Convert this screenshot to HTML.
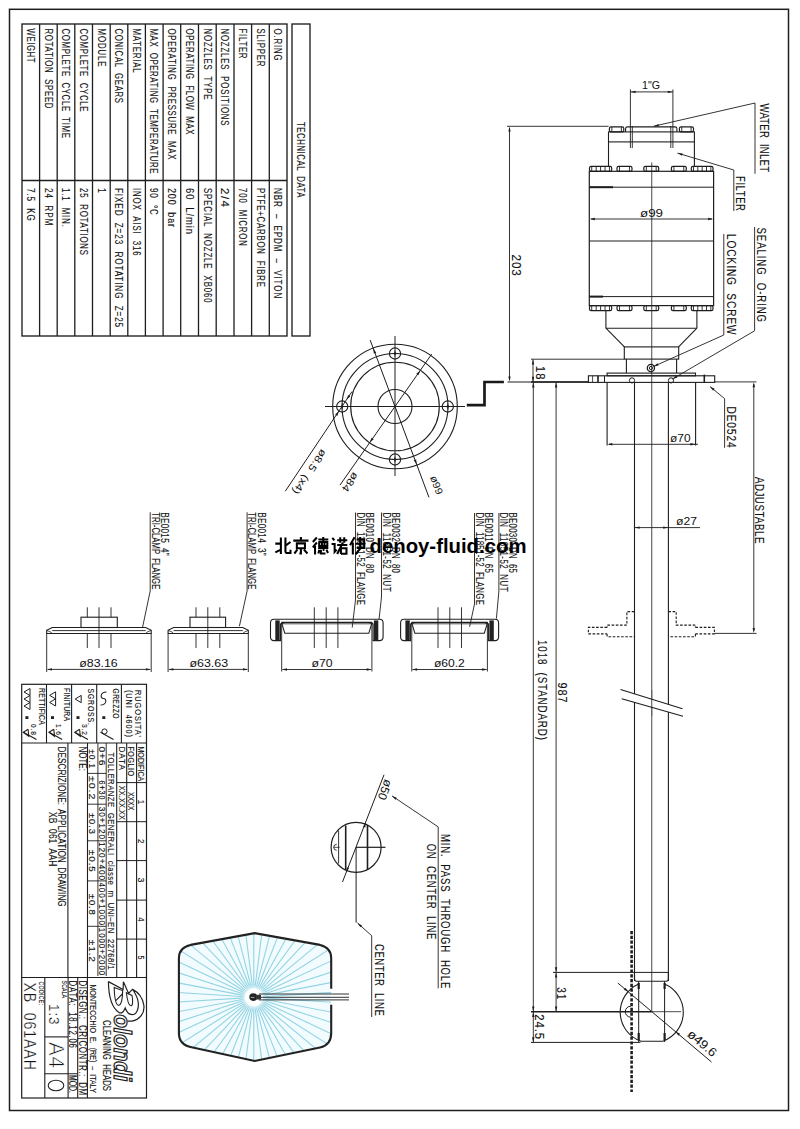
<!DOCTYPE html>
<html><head><meta charset="utf-8"><style>
html,body{margin:0;padding:0;background:#fff;}
svg{display:block;}
text{font-family:"Liberation Sans",sans-serif;white-space:pre;}
</style></head><body>
<svg width="800" height="1129" viewBox="0 0 800 1129">
<defs><radialGradient id="halo"><stop offset="0.55" stop-color="#fff" stop-opacity="1"/><stop offset="1" stop-color="#fff" stop-opacity="0"/></radialGradient></defs>
<rect x="0" y="0" width="800" height="1129" fill="#fff"/>
<rect x="9.5" y="9.3" width="779" height="1101.2" rx="0" fill="none" stroke="#1e1e1e" stroke-width="1.5"/>
<rect x="22" y="24" width="265" height="312" rx="0" fill="none" stroke="#1e1e1e" stroke-width="1.35"/>
<line x1="39.6" y1="24" x2="39.6" y2="336" stroke="#1e1e1e" stroke-width="1.3" />
<line x1="57.2" y1="24" x2="57.2" y2="336" stroke="#1e1e1e" stroke-width="1.3" />
<line x1="74.8" y1="24" x2="74.8" y2="336" stroke="#1e1e1e" stroke-width="1.3" />
<line x1="92.5" y1="24" x2="92.5" y2="336" stroke="#1e1e1e" stroke-width="1.3" />
<line x1="110.2" y1="24" x2="110.2" y2="336" stroke="#1e1e1e" stroke-width="1.3" />
<line x1="127.8" y1="24" x2="127.8" y2="336" stroke="#1e1e1e" stroke-width="1.3" />
<line x1="145.4" y1="24" x2="145.4" y2="336" stroke="#1e1e1e" stroke-width="1.3" />
<line x1="163.1" y1="24" x2="163.1" y2="336" stroke="#1e1e1e" stroke-width="1.3" />
<line x1="180.7" y1="24" x2="180.7" y2="336" stroke="#1e1e1e" stroke-width="1.3" />
<line x1="198.5" y1="24" x2="198.5" y2="336" stroke="#1e1e1e" stroke-width="1.3" />
<line x1="216.2" y1="24" x2="216.2" y2="336" stroke="#1e1e1e" stroke-width="1.3" />
<line x1="234" y1="24" x2="234" y2="336" stroke="#1e1e1e" stroke-width="1.3" />
<line x1="251.6" y1="24" x2="251.6" y2="336" stroke="#1e1e1e" stroke-width="1.3" />
<line x1="269.3" y1="24" x2="269.3" y2="336" stroke="#1e1e1e" stroke-width="1.3" />
<line x1="22" y1="180.5" x2="287" y2="180.5" stroke="#1e1e1e" stroke-width="1.3" />
<rect x="292" y="24" width="18" height="312" rx="0" fill="none" stroke="#1e1e1e" stroke-width="1.35"/>
<text transform="translate(26.95,28.5) rotate(90) scale(0.78,1)" font-size="10.03" textLength="43.59" lengthAdjust="spacing" fill="#111" stroke="#111" stroke-width="0.12" font-weight="normal" font-style="normal" font-family="Liberation Sans">WEIGHT</text>
<text transform="translate(44.55,28.5) rotate(90) scale(0.78,1)" font-size="10.03" textLength="102.56" lengthAdjust="spacing" fill="#111" stroke="#111" stroke-width="0.12" font-weight="normal" font-style="normal" font-family="Liberation Sans">ROTATION  SPEED</text>
<text transform="translate(62.15,28.5) rotate(90) scale(0.78,1)" font-size="10.03" textLength="140.38" lengthAdjust="spacing" fill="#111" stroke="#111" stroke-width="0.12" font-weight="normal" font-style="normal" font-family="Liberation Sans">COMPLETE  CYCLE  TIME</text>
<text transform="translate(79.8,28.5) rotate(90) scale(0.78,1)" font-size="10.03" textLength="106.41" lengthAdjust="spacing" fill="#111" stroke="#111" stroke-width="0.12" font-weight="normal" font-style="normal" font-family="Liberation Sans">COMPLETE  CYCLE</text>
<text transform="translate(97.5,28.5) rotate(90) scale(0.78,1)" font-size="10.03" textLength="48.67" lengthAdjust="spacing" fill="#111" stroke="#111" stroke-width="0.12" font-weight="normal" font-style="normal" font-family="Liberation Sans">MODULE</text>
<text transform="translate(115.15,28.5) rotate(90) scale(0.78,1)" font-size="10.03" textLength="95.51" lengthAdjust="spacing" fill="#111" stroke="#111" stroke-width="0.12" font-weight="normal" font-style="normal" font-family="Liberation Sans">CONICAL  GEARS</text>
<text transform="translate(132.75,28.5) rotate(90) scale(0.78,1)" font-size="10.03" textLength="56.41" lengthAdjust="spacing" fill="#111" stroke="#111" stroke-width="0.12" font-weight="normal" font-style="normal" font-family="Liberation Sans">MATERIAL</text>
<text transform="translate(150.4,28.5) rotate(90) scale(0.78,1)" font-size="10.03" textLength="185.9" lengthAdjust="spacing" fill="#111" stroke="#111" stroke-width="0.12" font-weight="normal" font-style="normal" font-family="Liberation Sans">MAX  OPERATING  TEMPERATURE</text>
<text transform="translate(168.05,28.5) rotate(90) scale(0.78,1)" font-size="10.03" textLength="167.95" lengthAdjust="spacing" fill="#111" stroke="#111" stroke-width="0.12" font-weight="normal" font-style="normal" font-family="Liberation Sans">OPERATING  PRESSURE  MAX</text>
<text transform="translate(185.75,28.5) rotate(90) scale(0.78,1)" font-size="10.03" textLength="135.9" lengthAdjust="spacing" fill="#111" stroke="#111" stroke-width="0.12" font-weight="normal" font-style="normal" font-family="Liberation Sans">OPERATING  FLOW  MAX</text>
<text transform="translate(203.5,28.5) rotate(90) scale(0.78,1)" font-size="10.03" textLength="91.03" lengthAdjust="spacing" fill="#111" stroke="#111" stroke-width="0.12" font-weight="normal" font-style="normal" font-family="Liberation Sans">NOZZLES  TYPE</text>
<text transform="translate(221.25,28.5) rotate(90) scale(0.78,1)" font-size="10.03" textLength="124.36" lengthAdjust="spacing" fill="#111" stroke="#111" stroke-width="0.12" font-weight="normal" font-style="normal" font-family="Liberation Sans">NOZZLES  POSITIONS</text>
<text transform="translate(238.95,28.5) rotate(90) scale(0.78,1)" font-size="10.03" textLength="38.46" lengthAdjust="spacing" fill="#111" stroke="#111" stroke-width="0.12" font-weight="normal" font-style="normal" font-family="Liberation Sans">FILTER</text>
<text transform="translate(256.6,28.5) rotate(90) scale(0.78,1)" font-size="10.03" textLength="48.72" lengthAdjust="spacing" fill="#111" stroke="#111" stroke-width="0.12" font-weight="normal" font-style="normal" font-family="Liberation Sans">SLIPPER</text>
<text transform="translate(274.3,28.5) rotate(90) scale(0.78,1)" font-size="10.03" textLength="41.03" lengthAdjust="spacing" fill="#111" stroke="#111" stroke-width="0.12" font-weight="normal" font-style="normal" font-family="Liberation Sans">O.RING</text>
<text transform="translate(26.95,188) rotate(90) scale(0.81,1)" font-size="10.03" textLength="40.66" lengthAdjust="spacing" fill="#111" stroke="#111" stroke-width="0.12" font-weight="normal" font-style="normal" font-family="Liberation Sans">7.5  KG</text>
<text transform="translate(44.55,188) rotate(90) scale(0.82,1)" font-size="10.03" textLength="45.58" lengthAdjust="spacing" fill="#111" stroke="#111" stroke-width="0.12" font-weight="normal" font-style="normal" font-family="Liberation Sans">24  RPM</text>
<text transform="translate(62.15,188) rotate(90) scale(0.78,1)" font-size="10.03" textLength="49.9" lengthAdjust="spacing" fill="#111" stroke="#111" stroke-width="0.12" font-weight="normal" font-style="normal" font-family="Liberation Sans">1.1  MIN.</text>
<text transform="translate(79.8,188) rotate(90) scale(0.78,1)" font-size="10.03" textLength="85.9" lengthAdjust="spacing" fill="#111" stroke="#111" stroke-width="0.12" font-weight="normal" font-style="normal" font-family="Liberation Sans">25  ROTATIONS</text>
<text transform="translate(97.5,188) rotate(90)" font-size="10.03" textLength="5" lengthAdjust="spacingAndGlyphs" fill="#111" stroke="#111" stroke-width="0.12" font-weight="normal" font-style="normal" font-family="Liberation Sans">1</text>
<text transform="translate(115.15,188) rotate(90) scale(0.81,1)" font-size="10.03" textLength="171.77" lengthAdjust="spacing" fill="#111" stroke="#111" stroke-width="0.12" font-weight="normal" font-style="normal" font-family="Liberation Sans">FIXED  Z=23  ROTATING  Z=25</text>
<text transform="translate(132.75,188) rotate(90) scale(0.78,1)" font-size="10.03" textLength="86.54" lengthAdjust="spacing" fill="#111" stroke="#111" stroke-width="0.12" font-weight="normal" font-style="normal" font-family="Liberation Sans">INOX  AISI  316</text>
<text transform="translate(150.4,188) rotate(90) scale(0.8,1)" font-size="10.03" textLength="33.58" lengthAdjust="spacing" fill="#111" stroke="#111" stroke-width="0.12" font-weight="normal" font-style="normal" font-family="Liberation Sans">90  °C</text>
<text transform="translate(168.05,188) rotate(90) scale(0.89,1)" font-size="10.03" textLength="43.89" lengthAdjust="spacing" fill="#111" stroke="#111" stroke-width="0.12" font-weight="normal" font-style="normal" font-family="Liberation Sans">200  bar</text>
<text transform="translate(185.75,188) rotate(90) scale(0.94,1)" font-size="10.03" textLength="48.91" lengthAdjust="spacing" fill="#111" stroke="#111" stroke-width="0.12" font-weight="normal" font-style="normal" font-family="Liberation Sans">60  L/min</text>
<text transform="translate(203.5,188) rotate(90) scale(0.78,1)" font-size="10.03" textLength="146.97" lengthAdjust="spacing" fill="#111" stroke="#111" stroke-width="0.12" font-weight="normal" font-style="normal" font-family="Liberation Sans">SPECIAL  NOZZLE  XB060</text>
<text transform="translate(221.25,188) rotate(90) scale(1.15,1)" font-size="10.03" textLength="16.52" lengthAdjust="spacing" fill="#111" stroke="#111" stroke-width="0.12" font-weight="normal" font-style="normal" font-family="Liberation Sans">2/4</text>
<text transform="translate(238.95,188) rotate(90) scale(0.78,1)" font-size="10.03" textLength="74.36" lengthAdjust="spacing" fill="#111" stroke="#111" stroke-width="0.12" font-weight="normal" font-style="normal" font-family="Liberation Sans">700  MICRON</text>
<text transform="translate(256.6,188) rotate(90) scale(0.78,1)" font-size="10.03" textLength="126.92" lengthAdjust="spacing" fill="#111" stroke="#111" stroke-width="0.12" font-weight="normal" font-style="normal" font-family="Liberation Sans">PTFE+CARBON  FIBRE</text>
<text transform="translate(274.3,188) rotate(90) scale(0.8,1)" font-size="10.03" textLength="137.73" lengthAdjust="spacing" fill="#111" stroke="#111" stroke-width="0.12" font-weight="normal" font-style="normal" font-family="Liberation Sans">NBR  –  EPDM  –  VITON</text>
<text transform="translate(296.75,122) rotate(90) scale(0.78,1)" font-size="10.03" textLength="96.79" lengthAdjust="spacing" fill="#111" stroke="#111" stroke-width="0.12" font-weight="normal" font-style="normal" font-family="Liberation Sans">TECHNICAL  DATA</text>
<circle cx="395" cy="406.5" r="62.3" fill="none" stroke="#1e1e1e" stroke-width="1.1"/>
<circle cx="395" cy="406.5" r="53" fill="none" stroke="#1e1e1e" stroke-width="1.1"/>
<circle cx="395" cy="406.5" r="44.3" fill="none" stroke="#1e1e1e" stroke-width="1.1"/>
<circle cx="395" cy="406.5" r="17" fill="none" stroke="#1e1e1e" stroke-width="1.1"/>
<circle cx="342.2" cy="406.5" r="5.6" fill="none" stroke="#1e1e1e" stroke-width="1.1"/>
<circle cx="342.2" cy="406.5" r="1.2" fill="#1e1e1e"/>
<line x1="339.2" y1="406.5" x2="345.2" y2="406.5" stroke="#1e1e1e" stroke-width="0.8" />
<line x1="342.2" y1="403.5" x2="342.2" y2="409.5" stroke="#1e1e1e" stroke-width="0.8" />
<circle cx="447.8" cy="406.5" r="5.6" fill="none" stroke="#1e1e1e" stroke-width="1.1"/>
<circle cx="447.8" cy="406.5" r="1.2" fill="#1e1e1e"/>
<line x1="444.8" y1="406.5" x2="450.8" y2="406.5" stroke="#1e1e1e" stroke-width="0.8" />
<line x1="447.8" y1="403.5" x2="447.8" y2="409.5" stroke="#1e1e1e" stroke-width="0.8" />
<circle cx="395" cy="353.5" r="5.6" fill="none" stroke="#1e1e1e" stroke-width="1.1"/>
<circle cx="395" cy="353.5" r="1.2" fill="#1e1e1e"/>
<line x1="392" y1="353.5" x2="398" y2="353.5" stroke="#1e1e1e" stroke-width="0.8" />
<line x1="395" y1="350.5" x2="395" y2="356.5" stroke="#1e1e1e" stroke-width="0.8" />
<circle cx="395" cy="459.5" r="5.6" fill="none" stroke="#1e1e1e" stroke-width="1.1"/>
<circle cx="395" cy="459.5" r="1.2" fill="#1e1e1e"/>
<line x1="392" y1="459.5" x2="398" y2="459.5" stroke="#1e1e1e" stroke-width="0.8" />
<line x1="395" y1="456.5" x2="395" y2="462.5" stroke="#1e1e1e" stroke-width="0.8" />
<line x1="325" y1="406.5" x2="465" y2="406.5" stroke="#1e1e1e" stroke-width="1" />
<line x1="395" y1="336" x2="395" y2="476" stroke="#1e1e1e" stroke-width="1" />
<line x1="370.14" y1="340" x2="428.97" y2="497.36" stroke="#1e1e1e" stroke-width="1" />
<polygon points="373.29,348.43 376.26,352.65 373.82,353.56" fill="#1e1e1e" stroke="none"/>
<polygon points="416.71,464.57 413.74,460.35 416.18,459.44" fill="#1e1e1e" stroke="none"/>
<line x1="431.71" y1="354.07" x2="339.94" y2="485.14" stroke="#1e1e1e" stroke-width="1" />
<polygon points="420.24,370.46 418.43,375.3 416.3,373.81" fill="#1e1e1e" stroke="none"/>
<polygon points="369.76,442.54 371.57,437.7 373.7,439.19" fill="#1e1e1e" stroke="none"/>
<line x1="352" y1="391.5" x2="285.3" y2="491.2" stroke="#1e1e1e" stroke-width="1" />
<polygon points="346.5,399.8 348.2,394.92 350.36,396.37" fill="#1e1e1e" stroke="none"/>
<polygon points="339,411 337.3,415.88 335.14,414.43" fill="#1e1e1e" stroke="none"/>
<text transform="translate(321.5,448.5) rotate(124.5)" font-size="10.17" textLength="52" lengthAdjust="spacingAndGlyphs" fill="#111">ø8.5  (x4)</text>
<text transform="translate(353.5,471.5) rotate(125)" font-size="10.17" textLength="21" lengthAdjust="spacingAndGlyphs" fill="#111">ø84</text>
<text transform="translate(430,477.3) rotate(70)" font-size="10.17" textLength="19" lengthAdjust="spacingAndGlyphs" fill="#111">ø99</text>
<polyline points="466.8,405.2 484.5,405.2 484.5,382 503.9,382" fill="none" stroke="#1a1a1a" stroke-width="2.7" stroke-linejoin="miter" />
<line x1="651.7" y1="162.5" x2="651.7" y2="1011.7" stroke="#666" stroke-width="1.2" />
<text x="642" y="88.8" font-size="10.03" textLength="18" lengthAdjust="spacingAndGlyphs" fill="#111" font-weight="normal">1"G</text>
<line x1="630.4" y1="89.4" x2="630.4" y2="148" stroke="#1e1e1e" stroke-width="0.9" />
<line x1="672.9" y1="89.4" x2="672.9" y2="148" stroke="#1e1e1e" stroke-width="0.9" />
<line x1="632.3" y1="126" x2="632.3" y2="148" stroke="#1e1e1e" stroke-width="0.9" />
<line x1="670.8" y1="126" x2="670.8" y2="148" stroke="#1e1e1e" stroke-width="0.9" />
<line x1="630.4" y1="91.9" x2="672.9" y2="91.9" stroke="#1e1e1e" stroke-width="0.9" />
<polygon points="630.6,91.9 635.6,90.7 635.6,93.1" fill="#1e1e1e" stroke="none"/>
<polygon points="672.7,91.9 667.7,93.1 667.7,90.7" fill="#1e1e1e" stroke="none"/>
<rect x="608.5" y="131.9" width="85.9" height="10" rx="0" fill="none" stroke="#1e1e1e" stroke-width="1.1"/>
<rect x="609.4" y="126.9" width="14.4" height="5" rx="1.6" fill="none" stroke="#1e1e1e" stroke-width="1.2"/>
<line x1="611.85" y1="126.9" x2="611.85" y2="131.9" stroke="#1e1e1e" stroke-width="0.9" />
<line x1="621.35" y1="126.9" x2="621.35" y2="131.9" stroke="#1e1e1e" stroke-width="0.9" />
<rect x="679.4" y="126.9" width="14.1" height="5" rx="1.6" fill="none" stroke="#1e1e1e" stroke-width="1.2"/>
<line x1="681.8" y1="126.9" x2="681.8" y2="131.9" stroke="#1e1e1e" stroke-width="0.9" />
<line x1="691.1" y1="126.9" x2="691.1" y2="131.9" stroke="#1e1e1e" stroke-width="0.9" />
<path d="M625.6,131.9 L625.6,128.4 Q625.6,126.9 627.4,126.9 L675,126.9 Q676.9,126.9 676.9,128.4 L676.9,131.9" fill="none" stroke="#1e1e1e" stroke-width="1.1" />
<line x1="507" y1="126.3" x2="608.5" y2="126.3" stroke="#1e1e1e" stroke-width="0.9" />
<line x1="608.5" y1="141.9" x2="608.5" y2="166.9" stroke="#1e1e1e" stroke-width="1.1" />
<line x1="694.4" y1="141.9" x2="694.4" y2="166.9" stroke="#1e1e1e" stroke-width="1.1" />
<rect x="589.3" y="171.3" width="124.3" height="134.3" rx="0" fill="none" stroke="#1e1e1e" stroke-width="1.2"/>
<rect x="589.5" y="166.4" width="22.2" height="4.9" rx="1.6" fill="none" stroke="#1e1e1e" stroke-width="1.2"/>
<line x1="591.72" y1="166.4" x2="591.72" y2="171.3" stroke="#1e1e1e" stroke-width="0.9" />
<line x1="596.16" y1="166.4" x2="596.16" y2="171.3" stroke="#1e1e1e" stroke-width="0.9" />
<line x1="600.6" y1="166.4" x2="600.6" y2="171.3" stroke="#1e1e1e" stroke-width="0.9" />
<line x1="605.04" y1="166.4" x2="605.04" y2="171.3" stroke="#1e1e1e" stroke-width="0.9" />
<line x1="609.48" y1="166.4" x2="609.48" y2="171.3" stroke="#1e1e1e" stroke-width="0.9" />
<rect x="589.5" y="305.6" width="22.2" height="5" rx="1.6" fill="none" stroke="#1e1e1e" stroke-width="1.2"/>
<line x1="591.72" y1="305.6" x2="591.72" y2="310.6" stroke="#1e1e1e" stroke-width="0.9" />
<line x1="596.16" y1="305.6" x2="596.16" y2="310.6" stroke="#1e1e1e" stroke-width="0.9" />
<line x1="600.6" y1="305.6" x2="600.6" y2="310.6" stroke="#1e1e1e" stroke-width="0.9" />
<line x1="605.04" y1="305.6" x2="605.04" y2="310.6" stroke="#1e1e1e" stroke-width="0.9" />
<line x1="609.48" y1="305.6" x2="609.48" y2="310.6" stroke="#1e1e1e" stroke-width="0.9" />
<rect x="617" y="166.4" width="15" height="4.9" rx="1.6" fill="none" stroke="#1e1e1e" stroke-width="1.2"/>
<line x1="619.55" y1="166.4" x2="619.55" y2="171.3" stroke="#1e1e1e" stroke-width="0.9" />
<line x1="629.45" y1="166.4" x2="629.45" y2="171.3" stroke="#1e1e1e" stroke-width="0.9" />
<rect x="617" y="305.6" width="15" height="5" rx="1.6" fill="none" stroke="#1e1e1e" stroke-width="1.2"/>
<line x1="619.55" y1="305.6" x2="619.55" y2="310.6" stroke="#1e1e1e" stroke-width="0.9" />
<line x1="629.45" y1="305.6" x2="629.45" y2="310.6" stroke="#1e1e1e" stroke-width="0.9" />
<rect x="643.8" y="166.4" width="14.9" height="4.9" rx="1.6" fill="none" stroke="#1e1e1e" stroke-width="1.2"/>
<line x1="646.33" y1="166.4" x2="646.33" y2="171.3" stroke="#1e1e1e" stroke-width="0.9" />
<line x1="656.17" y1="166.4" x2="656.17" y2="171.3" stroke="#1e1e1e" stroke-width="0.9" />
<rect x="643.8" y="305.6" width="14.9" height="5" rx="1.6" fill="none" stroke="#1e1e1e" stroke-width="1.2"/>
<line x1="646.33" y1="305.6" x2="646.33" y2="310.6" stroke="#1e1e1e" stroke-width="0.9" />
<line x1="656.17" y1="305.6" x2="656.17" y2="310.6" stroke="#1e1e1e" stroke-width="0.9" />
<rect x="671.4" y="166.4" width="14.9" height="4.9" rx="1.6" fill="none" stroke="#1e1e1e" stroke-width="1.2"/>
<line x1="673.93" y1="166.4" x2="673.93" y2="171.3" stroke="#1e1e1e" stroke-width="0.9" />
<line x1="683.77" y1="166.4" x2="683.77" y2="171.3" stroke="#1e1e1e" stroke-width="0.9" />
<rect x="671.4" y="305.6" width="14.9" height="5" rx="1.6" fill="none" stroke="#1e1e1e" stroke-width="1.2"/>
<line x1="673.93" y1="305.6" x2="673.93" y2="310.6" stroke="#1e1e1e" stroke-width="0.9" />
<line x1="683.77" y1="305.6" x2="683.77" y2="310.6" stroke="#1e1e1e" stroke-width="0.9" />
<rect x="691.3" y="166.4" width="21.7" height="4.9" rx="1.6" fill="none" stroke="#1e1e1e" stroke-width="1.2"/>
<line x1="693.47" y1="166.4" x2="693.47" y2="171.3" stroke="#1e1e1e" stroke-width="0.9" />
<line x1="697.81" y1="166.4" x2="697.81" y2="171.3" stroke="#1e1e1e" stroke-width="0.9" />
<line x1="702.15" y1="166.4" x2="702.15" y2="171.3" stroke="#1e1e1e" stroke-width="0.9" />
<line x1="706.49" y1="166.4" x2="706.49" y2="171.3" stroke="#1e1e1e" stroke-width="0.9" />
<line x1="710.83" y1="166.4" x2="710.83" y2="171.3" stroke="#1e1e1e" stroke-width="0.9" />
<rect x="691.3" y="305.6" width="21.7" height="5" rx="1.6" fill="none" stroke="#1e1e1e" stroke-width="1.2"/>
<line x1="693.47" y1="305.6" x2="693.47" y2="310.6" stroke="#1e1e1e" stroke-width="0.9" />
<line x1="697.81" y1="305.6" x2="697.81" y2="310.6" stroke="#1e1e1e" stroke-width="0.9" />
<line x1="702.15" y1="305.6" x2="702.15" y2="310.6" stroke="#1e1e1e" stroke-width="0.9" />
<line x1="706.49" y1="305.6" x2="706.49" y2="310.6" stroke="#1e1e1e" stroke-width="0.9" />
<line x1="710.83" y1="305.6" x2="710.83" y2="310.6" stroke="#1e1e1e" stroke-width="0.9" />
<line x1="589.3" y1="187.2" x2="713.6" y2="187.2" stroke="#1e1e1e" stroke-width="1" />
<line x1="589.3" y1="187.2" x2="613" y2="187.2" stroke="#1e1e1e" stroke-width="2" />
<line x1="589.3" y1="241" x2="713.6" y2="241" stroke="#1e1e1e" stroke-width="1" />
<line x1="589.3" y1="296.6" x2="713.6" y2="296.6" stroke="#1e1e1e" stroke-width="1" />
<line x1="589.3" y1="296.6" x2="603" y2="296.6" stroke="#1e1e1e" stroke-width="2" />
<line x1="591" y1="219" x2="712" y2="219" stroke="#1e1e1e" stroke-width="0.9" />
<polygon points="589.8,219 594.8,217.8 594.8,220.2" fill="#1e1e1e" stroke="none"/>
<polygon points="713.2,219 708.2,220.2 708.2,217.8" fill="#1e1e1e" stroke="none"/>
<text x="640" y="216.5" font-size="10.47" textLength="23" lengthAdjust="spacingAndGlyphs" fill="#111" font-weight="normal">ø99</text>
<line x1="605.9" y1="310.6" x2="605.9" y2="328.2" stroke="#1e1e1e" stroke-width="1.1" />
<line x1="696.9" y1="310.6" x2="696.9" y2="328.2" stroke="#1e1e1e" stroke-width="1.1" />
<line x1="605.9" y1="328.2" x2="696.9" y2="328.2" stroke="#1e1e1e" stroke-width="1.1" />
<line x1="605.9" y1="328.2" x2="624.4" y2="346.9" stroke="#1e1e1e" stroke-width="1.1" />
<line x1="696.9" y1="328.2" x2="678.6" y2="346.9" stroke="#1e1e1e" stroke-width="1.1" />
<rect x="624.3" y="346.9" width="54.4" height="12.2" rx="0" fill="none" stroke="#1e1e1e" stroke-width="1.1"/>
<line x1="626.4" y1="359.1" x2="626.4" y2="373.1" stroke="#1e1e1e" stroke-width="1.1" />
<line x1="676.6" y1="359.1" x2="676.6" y2="373.1" stroke="#1e1e1e" stroke-width="1.1" />
<line x1="531" y1="359.2" x2="624.3" y2="359.2" stroke="#1e1e1e" stroke-width="0.9" />
<circle cx="650.9" cy="368" r="3.6" fill="none" stroke="#1e1e1e" stroke-width="1.3"/>
<circle cx="650.9" cy="368" r="1.6" fill="none" stroke="#1e1e1e" stroke-width="1"/>
<rect x="607.1" y="373.1" width="88.4" height="2.7" rx="0" fill="none" stroke="#1e1e1e" stroke-width="1.1"/>
<rect x="588.4" y="375.8" width="126.3" height="6.6" rx="0" fill="none" stroke="#1e1e1e" stroke-width="1.1"/>
<line x1="604.5" y1="375.8" x2="604.5" y2="382.4" stroke="#1e1e1e" stroke-width="1" />
<line x1="598" y1="375.8" x2="598" y2="382.4" stroke="#1e1e1e" stroke-width="1.6" />
<line x1="592.6" y1="375.8" x2="592.6" y2="382.4" stroke="#1e1e1e" stroke-width="0.8" />
<line x1="704.3" y1="374.6" x2="704.3" y2="382.8" stroke="#1e1e1e" stroke-width="1.6" />
<circle cx="632" cy="380.4" r="2.6" fill="none" stroke="#1e1e1e" stroke-width="1"/>
<circle cx="671" cy="380.4" r="2.6" fill="none" stroke="#1e1e1e" stroke-width="1"/>
<line x1="507.5" y1="382" x2="588.4" y2="382" stroke="#1e1e1e" stroke-width="1" />
<line x1="531" y1="382" x2="588.4" y2="382" stroke="#1e1e1e" stroke-width="1.6" />
<line x1="714.7" y1="381.9" x2="756.5" y2="381.9" stroke="#1e1e1e" stroke-width="0.9" />
<line x1="607.1" y1="382.4" x2="607.1" y2="445.5" stroke="#1e1e1e" stroke-width="1.1" />
<line x1="695.6" y1="382.4" x2="695.6" y2="445.5" stroke="#1e1e1e" stroke-width="1.1" />
<line x1="634.5" y1="382.4" x2="634.5" y2="981" stroke="#1e1e1e" stroke-width="1.1" />
<line x1="668.4" y1="382.4" x2="668.4" y2="981" stroke="#1e1e1e" stroke-width="1.1" />
<line x1="609" y1="444.3" x2="698" y2="444.3" stroke="#1e1e1e" stroke-width="0.9" />
<polygon points="607.3,444.3 612.3,443.1 612.3,445.5" fill="#1e1e1e" stroke="none"/>
<polygon points="695.4,444.3 690.4,445.5 690.4,443.1" fill="#1e1e1e" stroke="none"/>
<text x="670" y="442" font-size="10.47" textLength="20.5" lengthAdjust="spacingAndGlyphs" fill="#111" font-weight="normal">ø70</text>
<line x1="634.5" y1="527.6" x2="700" y2="527.6" stroke="#1e1e1e" stroke-width="0.9" />
<polygon points="634.7,527.6 639.7,526.4 639.7,528.8" fill="#1e1e1e" stroke="none"/>
<polygon points="668.2,527.6 663.2,528.8 663.2,526.4" fill="#1e1e1e" stroke="none"/>
<text x="676" y="525" font-size="10.47" textLength="21" lengthAdjust="spacingAndGlyphs" fill="#111" font-weight="normal">ø27</text>
<polyline points="634.3,611.6 626.9,611.6 626.9,625.1 607.1,625.1 607.1,627.4" fill="none" stroke="#1e1e1e" stroke-width="1.1" stroke-linejoin="miter" stroke-dasharray="2.6,1.6"/>
<polyline points="607.1,633.9 607.1,636.7 634.3,636.7" fill="none" stroke="#1e1e1e" stroke-width="1.1" stroke-linejoin="miter" stroke-dasharray="2.6,1.6"/>
<polyline points="607.1,627.4 588.4,627.4 588.4,633.9 607.1,633.9" fill="none" stroke="#1e1e1e" stroke-width="1.1" stroke-linejoin="miter" stroke-dasharray="2.6,1.6"/>
<polyline points="668.4,611.6 676.2,611.6 676.2,625.1 695.4,625.1 695.4,627.4" fill="none" stroke="#1e1e1e" stroke-width="1.1" stroke-linejoin="miter" stroke-dasharray="2.6,1.6"/>
<polyline points="695.4,633.9 695.4,636.7 668.4,636.7" fill="none" stroke="#1e1e1e" stroke-width="1.1" stroke-linejoin="miter" stroke-dasharray="2.6,1.6"/>
<polyline points="695.4,627.4 714.4,627.4 714.4,633.9 695.4,633.9" fill="none" stroke="#1e1e1e" stroke-width="1.1" stroke-linejoin="miter" stroke-dasharray="2.6,1.6"/>
<line x1="714.4" y1="633.4" x2="756.5" y2="633.4" stroke="#1e1e1e" stroke-width="0.9" />
<polygon points="620.5,689.5 682.5,708.8 683,716.3 621.7,698.8" fill="#fff" stroke="none"/>
<line x1="651.7" y1="690" x2="651.7" y2="716" stroke="#666" stroke-width="1.2" />
<line x1="620.5" y1="689.5" x2="682.5" y2="708.8" stroke="#1e1e1e" stroke-width="1.1" />
<line x1="621.7" y1="698.8" x2="683" y2="716.3" stroke="#1e1e1e" stroke-width="1.1" />
<line x1="553" y1="972.4" x2="668.4" y2="972.4" stroke="#1e1e1e" stroke-width="1" />
<path d="M634.5,972.4 L634.5,979 Q634.5,981.2 636.7,981.2 L666.2,981.2 Q668.4,981.2 668.4,979 L668.4,972.4" fill="none" stroke="#1e1e1e" stroke-width="1.1" />
<path d="M638.7,984 A30.7,30.7 0 0 0 641,1041.2 L662.8,1041.2 A30.7,30.7 0 0 0 664.6,984" fill="none" stroke="#1e1e1e" stroke-width="1.1" />
<line x1="638.7" y1="981.2" x2="638.7" y2="1042" stroke="#1e1e1e" stroke-width="1" />
<line x1="664.6" y1="981.2" x2="664.6" y2="1042" stroke="#1e1e1e" stroke-width="1" />
<line x1="638.7" y1="983" x2="638.7" y2="989" stroke="#1e1e1e" stroke-width="2.2" />
<line x1="664.6" y1="983" x2="664.6" y2="989" stroke="#1e1e1e" stroke-width="2.2" />
<line x1="638.7" y1="1033" x2="638.7" y2="1040" stroke="#1e1e1e" stroke-width="2.2" />
<line x1="664.6" y1="1033" x2="664.6" y2="1040" stroke="#1e1e1e" stroke-width="2.2" />
<line x1="531" y1="1011.7" x2="651.9" y2="1011.7" stroke="#1e1e1e" stroke-width="1.6" />
<line x1="651.9" y1="1011.7" x2="681" y2="1011.7" stroke="#1e1e1e" stroke-width="0.8" />
<line x1="531" y1="1042.4" x2="640.4" y2="1042.4" stroke="#1e1e1e" stroke-width="1" />
<path d="M630.8,1006.2 A5.5,5.5 0 0 0 630.8,1017.2" fill="none" stroke="#1e1e1e" stroke-width="1" />
<line x1="631.6" y1="931" x2="631.6" y2="1092" stroke="#1e1e1e" stroke-width="2.6" stroke-dasharray="3.2,1.6"/>
<line x1="617.9" y1="983.1" x2="711.5" y2="1062" stroke="#1e1e1e" stroke-width="1" />
<polygon points="628.5,992 623.84,989.77 625.51,987.79" fill="#1e1e1e" stroke="none"/>
<polygon points="675.4,1031.6 680.06,1033.83 678.39,1035.81" fill="#1e1e1e" stroke="none"/>
<text transform="translate(686.5,1035.5) rotate(40.2)" font-size="12.5" textLength="34" lengthAdjust="spacingAndGlyphs" fill="#111">ø49.6</text>
<line x1="509.5" y1="128" x2="509.5" y2="380" stroke="#1e1e1e" stroke-width="0.9" />
<polygon points="509.5,126.6 510.7,131.6 508.3,131.6" fill="#1e1e1e" stroke="none"/>
<polygon points="509.5,381.6 508.3,376.6 510.7,376.6" fill="#1e1e1e" stroke="none"/>
<text transform="translate(511.5,254.5) rotate(90) scale(0.94,1)" font-size="12.5" textLength="22.76" lengthAdjust="spacing" fill="#111" stroke="#111" stroke-width="0.12" font-weight="normal" font-style="normal" font-family="Liberation Sans">203</text>
<line x1="533" y1="359.5" x2="533" y2="382" stroke="#1e1e1e" stroke-width="0.9" />
<polygon points="533,359.6 534.2,364.6 531.8,364.6" fill="#1e1e1e" stroke="none"/>
<polygon points="533,381.8 531.8,376.8 534.2,376.8" fill="#1e1e1e" stroke="none"/>
<text transform="translate(535.6,366) rotate(90) scale(0.93,1)" font-size="12.21" textLength="14.55" lengthAdjust="spacing" fill="#111" stroke="#111" stroke-width="0.12" font-weight="normal" font-style="normal" font-family="Liberation Sans">18</text>
<line x1="533.3" y1="382" x2="533.3" y2="1042.4" stroke="#1e1e1e" stroke-width="0.9" />
<polygon points="533.3,382.4 534.5,387.4 532.1,387.4" fill="#1e1e1e" stroke="none"/>
<polygon points="533.3,1011.4 532.1,1006.4 534.5,1006.4" fill="#1e1e1e" stroke="none"/>
<polygon points="533.3,1012 534.5,1017 532.1,1017" fill="#1e1e1e" stroke="none"/>
<polygon points="533.3,1042.2 532.1,1037.2 534.5,1037.2" fill="#1e1e1e" stroke="none"/>
<text transform="translate(537.7,640) rotate(90) scale(0.78,1)" font-size="12.5" textLength="128.21" lengthAdjust="spacing" fill="#111" stroke="#111" stroke-width="0.12" font-weight="normal" font-style="normal" font-family="Liberation Sans">1018  (STANDARD)</text>
<line x1="556.1" y1="382" x2="556.1" y2="1011.7" stroke="#1e1e1e" stroke-width="0.9" />
<polygon points="556.1,382.4 557.3,387.4 554.9,387.4" fill="#1e1e1e" stroke="none"/>
<polygon points="556.1,972.2 554.9,967.2 557.3,967.2" fill="#1e1e1e" stroke="none"/>
<polygon points="556.1,972.6 557.3,977.6 554.9,977.6" fill="#1e1e1e" stroke="none"/>
<polygon points="556.1,1011.4 554.9,1006.4 557.3,1006.4" fill="#1e1e1e" stroke="none"/>
<text transform="translate(558.2,682.5) rotate(90) scale(0.87,1)" font-size="12.5" textLength="22.92" lengthAdjust="spacing" fill="#111" stroke="#111" stroke-width="0.12" font-weight="normal" font-style="normal" font-family="Liberation Sans">987</text>
<text transform="translate(557.4,987.2) rotate(90) scale(0.78,1)" font-size="12.79" textLength="15.38" lengthAdjust="spacing" fill="#111" stroke="#111" stroke-width="0.12" font-weight="normal" font-style="normal" font-family="Liberation Sans">31</text>
<text transform="translate(534.9,1014.2) rotate(90) scale(0.89,1)" font-size="12.79" textLength="27.94" lengthAdjust="spacing" fill="#111" stroke="#111" stroke-width="0.12" font-weight="normal" font-style="normal" font-family="Liberation Sans">24.5</text>
<polyline points="653.8,126.2 755,103 755,173.8" fill="none" stroke="#1e1e1e" stroke-width="0.9" stroke-linejoin="miter" />
<polygon points="653.8,126.2 658.41,123.92 658.94,126.25" fill="#1e1e1e" stroke="none"/>
<text transform="translate(759.6,103.5) rotate(90) scale(0.78,1)" font-size="12.21" textLength="87.82" lengthAdjust="spacing" fill="#111" stroke="#111" stroke-width="0.12" font-weight="normal" font-style="normal" font-family="Liberation Sans">WATER  INLET</text>
<polyline points="677.5,153.1 733.8,170 733.8,211" fill="none" stroke="#1e1e1e" stroke-width="0.9" stroke-linejoin="miter" />
<polygon points="677.5,153.1 682.63,153.39 681.95,155.68" fill="#1e1e1e" stroke="none"/>
<text transform="translate(736.3,176) rotate(90) scale(0.78,1)" font-size="12.21" textLength="44.87" lengthAdjust="spacing" fill="#111" stroke="#111" stroke-width="0.12" font-weight="normal" font-style="normal" font-family="Liberation Sans">FILTER</text>
<polyline points="672.5,379 754.6,330.8 754.6,227" fill="none" stroke="#1e1e1e" stroke-width="0.9" stroke-linejoin="miter" />
<polygon points="672.5,379 676.2,375.43 677.42,377.5" fill="#1e1e1e" stroke="none"/>
<text transform="translate(756.6,227.5) rotate(90) scale(0.79,1)" font-size="12.21" textLength="119.77" lengthAdjust="spacing" fill="#111" stroke="#111" stroke-width="0.12" font-weight="normal" font-style="normal" font-family="Liberation Sans">SEALING  O-RING</text>
<polyline points="653.5,366.5 723.8,335 723.8,234" fill="none" stroke="#1e1e1e" stroke-width="0.9" stroke-linejoin="miter" />
<polygon points="653.5,366.5 657.57,363.36 658.55,365.55" fill="#1e1e1e" stroke="none"/>
<text transform="translate(726.8,234) rotate(90) scale(0.83,1)" font-size="12.21" textLength="121.23" lengthAdjust="spacing" fill="#111" stroke="#111" stroke-width="0.12" font-weight="normal" font-style="normal" font-family="Liberation Sans">LOCKING  SCREW</text>
<polyline points="710,386.6 724.6,398.6 724.6,447.8" fill="none" stroke="#1e1e1e" stroke-width="0.9" stroke-linejoin="miter" />
<polygon points="710,386.6 714.62,388.85 713.1,390.7" fill="#1e1e1e" stroke="none"/>
<text transform="translate(726.9,406.5) rotate(90) scale(0.81,1)" font-size="12.5" textLength="50.7" lengthAdjust="spacing" fill="#111" stroke="#111" stroke-width="0.12" font-weight="normal" font-style="normal" font-family="Liberation Sans">DE0524</text>
<line x1="753.8" y1="384" x2="753.8" y2="631" stroke="#1e1e1e" stroke-width="0.9" />
<polygon points="753.8,382.2 755,387.2 752.6,387.2" fill="#1e1e1e" stroke="none"/>
<polygon points="753.8,633.1 752.6,628.1 755,628.1" fill="#1e1e1e" stroke="none"/>
<text transform="translate(755.4,477) rotate(90) scale(0.78,1)" font-size="12.5" textLength="85.26" lengthAdjust="spacing" fill="#111" stroke="#111" stroke-width="0.12" font-weight="normal" font-style="normal" font-family="Liberation Sans">ADJUSTABLE</text>
<path d="M46.7,633.5 L46.7,630.3 L52.2,627.5 L145.7,627.5 L151.2,630.3 L151.2,633.5 Z" fill="none" stroke="#1e1e1e" stroke-width="1.1" />
<line x1="52.2" y1="630.6" x2="145.7" y2="630.6" stroke="#1e1e1e" stroke-width="0.9" />
<line x1="46.7" y1="630.3" x2="51.7" y2="632.6" stroke="#1e1e1e" stroke-width="0.8" />
<line x1="151.2" y1="630.3" x2="146.2" y2="632.6" stroke="#1e1e1e" stroke-width="0.8" />
<rect x="81" y="617.2" width="36.3" height="10.3" rx="0" fill="none" stroke="#1e1e1e" stroke-width="1.1"/>
<line x1="87.3" y1="607.3" x2="87.3" y2="617.2" stroke="#1e1e1e" stroke-width="0.9" />
<line x1="111" y1="607.3" x2="111" y2="617.2" stroke="#1e1e1e" stroke-width="0.9" />
<line x1="99" y1="607.3" x2="99" y2="648" stroke="#1e1e1e" stroke-width="0.9" />
<line x1="87.3" y1="633.5" x2="87.3" y2="648" stroke="#1e1e1e" stroke-width="0.9" />
<line x1="111" y1="633.5" x2="111" y2="648" stroke="#1e1e1e" stroke-width="0.9" />
<line x1="46.7" y1="633.5" x2="46.7" y2="672" stroke="#1e1e1e" stroke-width="0.9" />
<line x1="151.2" y1="633.5" x2="151.2" y2="672" stroke="#1e1e1e" stroke-width="0.9" />
<line x1="47.7" y1="669.4" x2="150.2" y2="669.4" stroke="#1e1e1e" stroke-width="0.9" />
<polygon points="47,669.4 52,668.2 52,670.6" fill="#1e1e1e" stroke="none"/>
<polygon points="150.9,669.4 145.9,670.6 145.9,668.2" fill="#1e1e1e" stroke="none"/>
<text x="79.3" y="666.8" font-size="10.61" textLength="38.4" lengthAdjust="spacingAndGlyphs" fill="#111" font-weight="normal">ø83.16</text>
<path d="M168.1,633.5 L168.1,630.3 L173.6,627.5 L242.8,627.5 L248.3,630.3 L248.3,633.5 Z" fill="none" stroke="#1e1e1e" stroke-width="1.1" />
<line x1="173.6" y1="630.6" x2="242.8" y2="630.6" stroke="#1e1e1e" stroke-width="0.9" />
<line x1="168.1" y1="630.3" x2="173.1" y2="632.6" stroke="#1e1e1e" stroke-width="0.8" />
<line x1="248.3" y1="630.3" x2="243.3" y2="632.6" stroke="#1e1e1e" stroke-width="0.8" />
<rect x="190" y="617.2" width="35.6" height="10.3" rx="0" fill="none" stroke="#1e1e1e" stroke-width="1.1"/>
<line x1="196" y1="607.3" x2="196" y2="617.2" stroke="#1e1e1e" stroke-width="0.9" />
<line x1="219.8" y1="607.3" x2="219.8" y2="617.2" stroke="#1e1e1e" stroke-width="0.9" />
<line x1="207.8" y1="607.3" x2="207.8" y2="648" stroke="#1e1e1e" stroke-width="0.9" />
<line x1="196" y1="633.5" x2="196" y2="648" stroke="#1e1e1e" stroke-width="0.9" />
<line x1="219.8" y1="633.5" x2="219.8" y2="648" stroke="#1e1e1e" stroke-width="0.9" />
<line x1="168.1" y1="633.5" x2="168.1" y2="672" stroke="#1e1e1e" stroke-width="0.9" />
<line x1="248.3" y1="633.5" x2="248.3" y2="672" stroke="#1e1e1e" stroke-width="0.9" />
<line x1="169.1" y1="669.4" x2="247.3" y2="669.4" stroke="#1e1e1e" stroke-width="0.9" />
<polygon points="168.4,669.4 173.4,668.2 173.4,670.6" fill="#1e1e1e" stroke="none"/>
<polygon points="248,669.4 243,670.6 243,668.2" fill="#1e1e1e" stroke="none"/>
<text x="189.4" y="666.9" font-size="10.61" textLength="38.7" lengthAdjust="spacingAndGlyphs" fill="#111" font-weight="normal">ø63.63</text>
<polyline points="142.6,627.2 150.2,591 150.2,512.3" fill="none" stroke="#1e1e1e" stroke-width="0.9" stroke-linejoin="miter" />
<polyline points="239.4,626.2 247.1,591 247.1,512.3" fill="none" stroke="#1e1e1e" stroke-width="0.9" stroke-linejoin="miter" />
<text transform="translate(151.75,512.3) rotate(90)" font-size="10.61" textLength="77" lengthAdjust="spacingAndGlyphs" fill="#111" stroke="#111" stroke-width="0.12" font-weight="normal" font-style="normal" font-family="Liberation Sans">TRI-CLAMP  FLANGE</text>
<text transform="translate(160.85,512.3) rotate(90) scale(0.78,1)" font-size="10.61" textLength="55.64" lengthAdjust="spacing" fill="#111" stroke="#111" stroke-width="0.12" font-weight="normal" font-style="normal" font-family="Liberation Sans">BE0015  4"</text>
<text transform="translate(248.35,512.3) rotate(90)" font-size="10.61" textLength="77" lengthAdjust="spacingAndGlyphs" fill="#111" stroke="#111" stroke-width="0.12" font-weight="normal" font-style="normal" font-family="Liberation Sans">TRI-CLAMP  FLANGE</text>
<text transform="translate(257.65,512.3) rotate(90) scale(0.78,1)" font-size="10.61" textLength="55.64" lengthAdjust="spacing" fill="#111" stroke="#111" stroke-width="0.12" font-weight="normal" font-style="normal" font-family="Liberation Sans">BE0014  3"</text>
<path d="M284.8,619.2 L274.0,619.2 Q270.5,619.2 270.5,623 L270.5,637 Q270.5,640.6 274.0,640.6 L280.5,640.6 L280.5,624 L284.8,622.4" fill="none" stroke="#1e1e1e" stroke-width="1.1" />
<rect x="275.3" y="620.4" width="4.4" height="19.6" rx="0" fill="#222" stroke="#1e1e1e" stroke-width="0"/>
<path d="M368.8,619.2 L379.6,619.2 Q383.1,619.2 383.1,623 L383.1,637 Q383.1,640.6 379.6,640.6 L373.1,640.6 L373.1,624 L368.8,622.4" fill="none" stroke="#1e1e1e" stroke-width="1.1" />
<rect x="373.9" y="620.4" width="4.4" height="19.6" rx="0" fill="#222" stroke="#1e1e1e" stroke-width="0"/>
<line x1="284.8" y1="619.2" x2="368.8" y2="619.2" stroke="#1e1e1e" stroke-width="1.1" />
<line x1="281.5" y1="622.4" x2="372.1" y2="622.4" stroke="#1e1e1e" stroke-width="1.1" />
<line x1="282.5" y1="623.8" x2="371.1" y2="623.8" stroke="#1e1e1e" stroke-width="0.8" />
<polyline points="281.5,622.4 284.8,633.3 368.8,633.3 372.1,622.4" fill="none" stroke="#1e1e1e" stroke-width="1.1" stroke-linejoin="miter" />
<line x1="314.3" y1="607.3" x2="314.3" y2="648" stroke="#1e1e1e" stroke-width="0.9" />
<line x1="326.2" y1="607.3" x2="326.2" y2="648" stroke="#1e1e1e" stroke-width="0.9" />
<line x1="337.9" y1="607.3" x2="337.9" y2="648" stroke="#1e1e1e" stroke-width="0.9" />
<line x1="281.7" y1="622.4" x2="281.7" y2="671.5" stroke="#1e1e1e" stroke-width="0.9" />
<line x1="371.9" y1="622.4" x2="371.9" y2="671.5" stroke="#1e1e1e" stroke-width="0.9" />
<line x1="282.5" y1="669.5" x2="371.1" y2="669.5" stroke="#1e1e1e" stroke-width="0.9" />
<polygon points="282,669.5 287,668.3 287,670.7" fill="#1e1e1e" stroke="none"/>
<polygon points="371.6,669.5 366.6,670.7 366.6,668.3" fill="#1e1e1e" stroke="none"/>
<text x="311.6" y="667" font-size="10.61" textLength="21.1" lengthAdjust="spacingAndGlyphs" fill="#111" font-weight="normal">ø70</text>
<path d="M414.90000000000003,619.2 L404.1,619.2 Q400.6,619.2 400.6,623 L400.6,637 Q400.6,640.6 404.1,640.6 L410.6,640.6 L410.6,624 L414.90000000000003,622.4" fill="none" stroke="#1e1e1e" stroke-width="1.1" />
<rect x="405.4" y="620.4" width="4.4" height="19.6" rx="0" fill="#222" stroke="#1e1e1e" stroke-width="0"/>
<path d="M484.3,619.2 L495.1,619.2 Q498.6,619.2 498.6,623 L498.6,637 Q498.6,640.6 495.1,640.6 L488.6,640.6 L488.6,624 L484.3,622.4" fill="none" stroke="#1e1e1e" stroke-width="1.1" />
<rect x="489.4" y="620.4" width="4.4" height="19.6" rx="0" fill="#222" stroke="#1e1e1e" stroke-width="0"/>
<line x1="414.9" y1="619.2" x2="484.3" y2="619.2" stroke="#1e1e1e" stroke-width="1.1" />
<line x1="411.6" y1="622.4" x2="487.6" y2="622.4" stroke="#1e1e1e" stroke-width="1.1" />
<line x1="412.6" y1="623.8" x2="486.6" y2="623.8" stroke="#1e1e1e" stroke-width="0.8" />
<polyline points="411.6,622.4 414.9,633.3 484.3,633.3 487.6,622.4" fill="none" stroke="#1e1e1e" stroke-width="1.1" stroke-linejoin="miter" />
<line x1="438" y1="607.3" x2="438" y2="648" stroke="#1e1e1e" stroke-width="0.9" />
<line x1="449.8" y1="607.3" x2="449.8" y2="648" stroke="#1e1e1e" stroke-width="0.9" />
<line x1="461.5" y1="607.3" x2="461.5" y2="648" stroke="#1e1e1e" stroke-width="0.9" />
<line x1="411.8" y1="622.4" x2="411.8" y2="671.5" stroke="#1e1e1e" stroke-width="0.9" />
<line x1="487.4" y1="622.4" x2="487.4" y2="671.5" stroke="#1e1e1e" stroke-width="0.9" />
<line x1="412.6" y1="669.5" x2="486.6" y2="669.5" stroke="#1e1e1e" stroke-width="0.9" />
<polygon points="412.1,669.5 417.1,668.3 417.1,670.7" fill="#1e1e1e" stroke="none"/>
<polygon points="487.1,669.5 482.1,670.7 482.1,668.3" fill="#1e1e1e" stroke="none"/>
<text x="433.9" y="667.4" font-size="10.61" textLength="30.9" lengthAdjust="spacingAndGlyphs" fill="#111" font-weight="normal">ø60.2</text>
<polyline points="352.2,627.6 355.5,600 355.5,512.5" fill="none" stroke="#1e1e1e" stroke-width="0.9" stroke-linejoin="miter" />
<polyline points="379,619.5 381.5,597 381.5,512.5" fill="none" stroke="#1e1e1e" stroke-width="0.9" stroke-linejoin="miter" />
<polyline points="469.6,626.8 474.5,604 474.5,513" fill="none" stroke="#1e1e1e" stroke-width="0.9" stroke-linejoin="miter" />
<polyline points="496.4,618.6 498.9,591 498.9,513" fill="none" stroke="#1e1e1e" stroke-width="0.9" stroke-linejoin="miter" />
<text transform="translate(366,512.5) rotate(90) scale(0.78,1)" font-size="10.17" textLength="77.56" lengthAdjust="spacing" fill="#111" stroke="#111" stroke-width="0.12" font-weight="normal" font-style="normal" font-family="Liberation Sans">BE0010  DN  80</text>
<text transform="translate(356.6,512.5) rotate(90) scale(0.78,1)" font-size="10.17" textLength="118.59" lengthAdjust="spacing" fill="#111" stroke="#111" stroke-width="0.12" font-weight="normal" font-style="normal" font-family="Liberation Sans">DIN  11851-52  FLANGE</text>
<text transform="translate(392,512.5) rotate(90) scale(0.78,1)" font-size="10.17" textLength="77.56" lengthAdjust="spacing" fill="#111" stroke="#111" stroke-width="0.12" font-weight="normal" font-style="normal" font-family="Liberation Sans">BE0032  DN  80</text>
<text transform="translate(382.6,512.5) rotate(90) scale(0.78,1)" font-size="10.17" textLength="101.28" lengthAdjust="spacing" fill="#111" stroke="#111" stroke-width="0.12" font-weight="normal" font-style="normal" font-family="Liberation Sans">DIN  11851-52  NUT</text>
<text transform="translate(485,512.5) rotate(90) scale(0.78,1)" font-size="10.17" textLength="77.56" lengthAdjust="spacing" fill="#111" stroke="#111" stroke-width="0.12" font-weight="normal" font-style="normal" font-family="Liberation Sans">BE0011  DN  65</text>
<text transform="translate(475.6,512.5) rotate(90) scale(0.78,1)" font-size="10.17" textLength="118.59" lengthAdjust="spacing" fill="#111" stroke="#111" stroke-width="0.12" font-weight="normal" font-style="normal" font-family="Liberation Sans">DIN  11851-52  FLANGE</text>
<text transform="translate(509.4,512.5) rotate(90) scale(0.78,1)" font-size="10.17" textLength="77.56" lengthAdjust="spacing" fill="#111" stroke="#111" stroke-width="0.12" font-weight="normal" font-style="normal" font-family="Liberation Sans">BE0030  DN  65</text>
<text transform="translate(500,512.5) rotate(90) scale(0.78,1)" font-size="10.17" textLength="101.28" lengthAdjust="spacing" fill="#111" stroke="#111" stroke-width="0.12" font-weight="normal" font-style="normal" font-family="Liberation Sans">DIN  11851-52  NUT</text>
<circle cx="356.1" cy="847.3" r="25" fill="none" stroke="#1e1e1e" stroke-width="1.2"/>
<line x1="338.6" y1="830.5" x2="338.6" y2="863.5" stroke="#1e1e1e" stroke-width="0.9" />
<line x1="345.7" y1="825.5" x2="345.7" y2="870" stroke="#1e1e1e" stroke-width="1.6" />
<line x1="367.5" y1="825" x2="367.5" y2="870" stroke="#1e1e1e" stroke-width="1.6" />
<line x1="356.1" y1="847.3" x2="385.5" y2="847.3" stroke="#1e1e1e" stroke-width="1.2" />
<line x1="356.1" y1="847.3" x2="356.1" y2="922.6" stroke="#1e1e1e" stroke-width="1" />
<polygon points="356.1,847.3 356.2,847.4 356,847.4" fill="#1e1e1e" stroke="none"/>
<polyline points="357.5,923 371.7,935.7 371.7,1017" fill="none" stroke="#1e1e1e" stroke-width="0.9" stroke-linejoin="miter" />
<polygon points="357.5,923 362.03,925.44 360.42,927.23" fill="#1e1e1e" stroke="none"/>
<text transform="translate(374.7,944) rotate(90) scale(0.78,1)" font-size="12.21" textLength="92.05" lengthAdjust="spacing" fill="#111" stroke="#111" stroke-width="0.12" font-weight="normal" font-style="normal" font-family="Liberation Sans">CENTER  LINE</text>
<line x1="342.5" y1="882" x2="384" y2="774.8" stroke="#1e1e1e" stroke-width="1" />
<polygon points="366,822.5 365.31,827.6 363.08,826.73" fill="#1e1e1e" stroke="none"/>
<polygon points="346.2,872.3 346.89,867.2 349.12,868.07" fill="#1e1e1e" stroke="none"/>
<text transform="translate(385,778.5) rotate(111)" font-size="11.92" textLength="21" lengthAdjust="spacingAndGlyphs" fill="#111">ø50</text>
<polyline points="392,795.9 438.2,826.9 438.2,988.3" fill="none" stroke="#1e1e1e" stroke-width="0.9" stroke-linejoin="miter" />
<polygon points="392,795.9 396.82,797.69 395.48,799.68" fill="#1e1e1e" stroke="none"/>
<text transform="translate(440.6,834) rotate(90) scale(0.78,1)" font-size="12.21" textLength="197.82" lengthAdjust="spacing" fill="#111" stroke="#111" stroke-width="0.12" font-weight="normal" font-style="normal" font-family="Liberation Sans">MIN.  PASS  THROUGH  HOLE</text>
<text transform="translate(427.3,843.7) rotate(90) scale(0.78,1)" font-size="12.21" textLength="122.56" lengthAdjust="spacing" fill="#111" stroke="#111" stroke-width="0.12" font-weight="normal" font-style="normal" font-family="Liberation Sans">ON  CENTER  LINE</text>
<path d="M336.7,844.3 A3,3 0 0 0 336.7,850.3" fill="none" stroke="#1e1e1e" stroke-width="0.9" />
<line x1="333.7" y1="847.3" x2="339.7" y2="847.3" stroke="#1e1e1e" stroke-width="0.8" />
<rect x="21.7" y="684.3" width="124.8" height="413.7" rx="0" fill="none" stroke="#1e1e1e" stroke-width="1.2"/>
<line x1="21.7" y1="743" x2="146.5" y2="743" stroke="#1e1e1e" stroke-width="1.1" />
<line x1="46.5" y1="684.3" x2="46.5" y2="743" stroke="#1e1e1e" stroke-width="1.1" />
<line x1="71.6" y1="684.3" x2="71.6" y2="743" stroke="#1e1e1e" stroke-width="1.1" />
<line x1="96.7" y1="684.3" x2="96.7" y2="743" stroke="#1e1e1e" stroke-width="1.1" />
<line x1="121.4" y1="684.3" x2="121.4" y2="743" stroke="#1e1e1e" stroke-width="1.1" />
<line x1="21.7" y1="977.5" x2="146.5" y2="977.5" stroke="#1e1e1e" stroke-width="1.1" />
<line x1="67.9" y1="743" x2="67.9" y2="977.5" stroke="#1e1e1e" stroke-width="1.1" />
<line x1="87.5" y1="743" x2="87.5" y2="977.5" stroke="#1e1e1e" stroke-width="1.1" />
<line x1="116.7" y1="743" x2="116.7" y2="977.5" stroke="#1e1e1e" stroke-width="1.1" />
<line x1="126.7" y1="743" x2="126.7" y2="977.5" stroke="#1e1e1e" stroke-width="1.1" />
<line x1="136.6" y1="743" x2="136.6" y2="977.5" stroke="#1e1e1e" stroke-width="1.1" />
<line x1="97.9" y1="743" x2="97.9" y2="976" stroke="#1e1e1e" stroke-width="0.9" />
<line x1="106.2" y1="743" x2="106.2" y2="976" stroke="#1e1e1e" stroke-width="0.9" />
<line x1="87.5" y1="773.4" x2="106.2" y2="773.4" stroke="#1e1e1e" stroke-width="0.9" />
<line x1="87.5" y1="804.2" x2="106.2" y2="804.2" stroke="#1e1e1e" stroke-width="0.9" />
<line x1="87.5" y1="840.8" x2="106.2" y2="840.8" stroke="#1e1e1e" stroke-width="0.9" />
<line x1="87.5" y1="880.9" x2="106.2" y2="880.9" stroke="#1e1e1e" stroke-width="0.9" />
<line x1="87.5" y1="926.3" x2="106.2" y2="926.3" stroke="#1e1e1e" stroke-width="0.9" />
<line x1="116.7" y1="782.6" x2="146.5" y2="782.6" stroke="#1e1e1e" stroke-width="1" />
<line x1="116.7" y1="821.7" x2="146.5" y2="821.7" stroke="#1e1e1e" stroke-width="1" />
<line x1="116.7" y1="860.6" x2="146.5" y2="860.6" stroke="#1e1e1e" stroke-width="1" />
<line x1="116.7" y1="900.1" x2="146.5" y2="900.1" stroke="#1e1e1e" stroke-width="1" />
<line x1="116.7" y1="939.1" x2="146.5" y2="939.1" stroke="#1e1e1e" stroke-width="1" />
<line x1="44.8" y1="977.5" x2="44.8" y2="1098" stroke="#1e1e1e" stroke-width="1.1" />
<line x1="68.1" y1="977.5" x2="68.1" y2="1098" stroke="#1e1e1e" stroke-width="1.1" />
<line x1="77.7" y1="977.5" x2="77.7" y2="1098" stroke="#1e1e1e" stroke-width="1.1" />
<line x1="87.4" y1="977.5" x2="87.4" y2="1098" stroke="#1e1e1e" stroke-width="1.1" />
<line x1="44.8" y1="1036.9" x2="68.1" y2="1036.9" stroke="#1e1e1e" stroke-width="1.1" />
<line x1="44.8" y1="1073.8" x2="77.7" y2="1073.8" stroke="#1e1e1e" stroke-width="1.1" />
<line x1="77.7" y1="1038.6" x2="87.4" y2="1038.6" stroke="#1e1e1e" stroke-width="0.9" />
<text transform="translate(135.4,690) rotate(90) scale(0.8,1)" font-size="9.3" textLength="58.65" lengthAdjust="spacing" fill="#111" stroke="#111" stroke-width="0.12" font-weight="normal" font-style="normal" font-family="Liberation Sans">RUGOSITA'</text>
<text transform="translate(125.8,690) rotate(90) scale(0.79,1)" font-size="9.3" textLength="59.47" lengthAdjust="spacing" fill="#111" stroke="#111" stroke-width="0.12" font-weight="normal" font-style="normal" font-family="Liberation Sans">(UNI  4600)</text>
<text transform="translate(113.3,688.5) rotate(90) scale(0.78,1)" font-size="8.72" textLength="38.46" lengthAdjust="spacing" fill="#111" stroke="#111" stroke-width="0.12" font-weight="normal" font-style="normal" font-family="Liberation Sans">GREZZO</text>
<text transform="translate(88.2,688.5) rotate(90) scale(0.78,1)" font-size="8.72" textLength="46.64" lengthAdjust="spacing" fill="#111" stroke="#111" stroke-width="0.12" font-weight="normal" font-style="normal" font-family="Liberation Sans">SGROSS.</text>
<text transform="translate(63.7,688.1) rotate(90) scale(0.78,1)" font-size="8.72" textLength="42.18" lengthAdjust="spacing" fill="#111" stroke="#111" stroke-width="0.12" font-weight="normal" font-style="normal" font-family="Liberation Sans">FINITURA</text>
<text transform="translate(38.5,688.1) rotate(90) scale(0.78,1)" font-size="8.72" textLength="46.92" lengthAdjust="spacing" fill="#111" stroke="#111" stroke-width="0.12" font-weight="normal" font-style="normal" font-family="Liberation Sans">RETTIFICA</text>
<polygon points="30,688.5 24,692 30,695.5" fill="none" stroke="#1e1e1e" stroke-width="1" stroke-linejoin="miter" />
<polygon points="30,695.5 24,699 30,702.5" fill="none" stroke="#1e1e1e" stroke-width="1" stroke-linejoin="miter" />
<polygon points="30,702.5 24,706 30,709.5" fill="none" stroke="#1e1e1e" stroke-width="1" stroke-linejoin="miter" />
<polygon points="55.6,691.8 49.6,695.35 55.6,698.9" fill="none" stroke="#1e1e1e" stroke-width="1" stroke-linejoin="miter" />
<polygon points="55.6,698.9 49.6,702.45 55.6,706" fill="none" stroke="#1e1e1e" stroke-width="1" stroke-linejoin="miter" />
<polygon points="81.2,695.4 75.2,699.05 81.2,702.7" fill="none" stroke="#1e1e1e" stroke-width="1" stroke-linejoin="miter" />
<path d="M106.5,692 C100,692 100,698.5 103.5,698.5 C107,698.5 107,705 100.5,705" fill="none" stroke="#1e1e1e" stroke-width="1.1" />
<rect x="25.4" y="716.2" width="3" height="2.8" rx="0" fill="#222" stroke="#1e1e1e" stroke-width="0"/>
<rect x="51" y="716.2" width="3" height="2.8" rx="0" fill="#222" stroke="#1e1e1e" stroke-width="0"/>
<rect x="76.5" y="716.2" width="3" height="2.8" rx="0" fill="#222" stroke="#1e1e1e" stroke-width="0"/>
<rect x="102.3" y="716.2" width="3" height="2.8" rx="0" fill="#222" stroke="#1e1e1e" stroke-width="0"/>
<polyline points="28.1,729.3 23.3,732.3 28.8,736.3 28.1,729.3" fill="none" stroke="#1e1e1e" stroke-width="1.1" stroke-linejoin="miter" />
<line x1="23.3" y1="732.3" x2="36.5" y2="739.6" stroke="#1e1e1e" stroke-width="1.1" />
<polyline points="53.8,729.3 49,732.3 54.5,736.3 53.8,729.3" fill="none" stroke="#1e1e1e" stroke-width="1.1" stroke-linejoin="miter" />
<line x1="49" y1="732.3" x2="62.2" y2="739.6" stroke="#1e1e1e" stroke-width="1.1" />
<polyline points="79.6,729.3 74.8,732.3 80.3,736.3 79.6,729.3" fill="none" stroke="#1e1e1e" stroke-width="1.1" stroke-linejoin="miter" />
<line x1="74.8" y1="732.3" x2="88" y2="739.6" stroke="#1e1e1e" stroke-width="1.1" />
<line x1="100.5" y1="732.3" x2="113.5" y2="739.6" stroke="#1e1e1e" stroke-width="1.1" />
<circle cx="104.5" cy="731.5" r="2.6" fill="none" stroke="#1e1e1e" stroke-width="1"/>
<text transform="translate(30.7,724) rotate(90) scale(0.88,1)" font-size="7.56" textLength="12.56" lengthAdjust="spacing" fill="#111" stroke="#111" stroke-width="0.12" font-weight="normal" font-style="normal" font-family="Liberation Sans">0.8</text>
<text transform="translate(56.4,724) rotate(90) scale(0.88,1)" font-size="7.56" textLength="12.56" lengthAdjust="spacing" fill="#111" stroke="#111" stroke-width="0.12" font-weight="normal" font-style="normal" font-family="Liberation Sans">1.6</text>
<text transform="translate(82.2,724) rotate(90) scale(0.88,1)" font-size="7.56" textLength="12.56" lengthAdjust="spacing" fill="#111" stroke="#111" stroke-width="0.12" font-weight="normal" font-style="normal" font-family="Liberation Sans">3.2</text>
<text transform="translate(78.7,746.4) rotate(90)" font-size="10.76" textLength="24.5" lengthAdjust="spacingAndGlyphs" fill="#111" stroke="#111" stroke-width="0.12" font-weight="normal" font-style="normal" font-family="Liberation Sans">NOTE:</text>
<text transform="translate(58.1,746.6) rotate(90)" font-size="11.05" textLength="160.1" lengthAdjust="spacingAndGlyphs" fill="#111" stroke="#111" stroke-width="0.12" font-weight="normal" font-style="normal" font-family="Liberation Sans">DESCRIZIONE:  APPLICATION  DRAWING</text>
<text transform="translate(48.9,812) rotate(90) scale(0.78,1)" font-size="10.76" textLength="69.62" lengthAdjust="spacing" fill="#111" stroke="#111" stroke-width="0.12" font-weight="normal" font-style="normal" font-family="Liberation Sans">XB  061  AAH</text>
<text transform="translate(138.4,746.4) rotate(90)" font-size="9.3" textLength="35" lengthAdjust="spacingAndGlyphs" fill="#111" stroke="#111" stroke-width="0.12" font-weight="normal" font-style="normal" font-family="Liberation Sans">MODIFICA</text>
<text transform="translate(128.4,746.4) rotate(90) scale(0.78,1)" font-size="9.3" textLength="38.08" lengthAdjust="spacing" fill="#111" stroke="#111" stroke-width="0.12" font-weight="normal" font-style="normal" font-family="Liberation Sans">FOGLIO</text>
<text transform="translate(118.6,746.4) rotate(90) scale(0.89,1)" font-size="9.3" textLength="26.46" lengthAdjust="spacing" fill="#111" stroke="#111" stroke-width="0.12" font-weight="normal" font-style="normal" font-family="Liberation Sans">DATA</text>
<text transform="translate(108.2,752.5) rotate(90) scale(0.78,1)" font-size="9.88" textLength="278.33" lengthAdjust="spacing" fill="#111" stroke="#111" stroke-width="0.12" font-weight="normal" font-style="normal" font-family="Liberation Sans">TOLLERANZE  GENERALI  classe  m  UNI–EN  22768/1</text>
<text transform="translate(98.9,746.4) rotate(90) scale(1.1,1)" font-size="9.3" textLength="17.41" lengthAdjust="spacing" fill="#111" stroke="#111" stroke-width="0.12" font-weight="normal" font-style="normal" font-family="Liberation Sans">0+6</text>
<text transform="translate(89,749.3) rotate(90) scale(0.85,1)" font-size="9.88" textLength="22.34" lengthAdjust="spacing" fill="#111" stroke="#111" stroke-width="0.12" font-weight="normal" font-style="normal" font-family="Liberation Sans">±0.1</text>
<text transform="translate(98.9,780.5) rotate(90) scale(0.78,1)" font-size="9.3" textLength="24.4" lengthAdjust="spacing" fill="#111" stroke="#111" stroke-width="0.12" font-weight="normal" font-style="normal" font-family="Liberation Sans">6+30</text>
<text transform="translate(89,776) rotate(90) scale(1.08,1)" font-size="9.88" textLength="21.65" lengthAdjust="spacing" fill="#111" stroke="#111" stroke-width="0.12" font-weight="normal" font-style="normal" font-family="Liberation Sans">±0.2</text>
<text transform="translate(98.9,806.8) rotate(90) scale(0.89,1)" font-size="9.3" textLength="36.35" lengthAdjust="spacing" fill="#111" stroke="#111" stroke-width="0.12" font-weight="normal" font-style="normal" font-family="Liberation Sans">30+120</text>
<text transform="translate(89,813) rotate(90) scale(0.95,1)" font-size="9.88" textLength="21.99" lengthAdjust="spacing" fill="#111" stroke="#111" stroke-width="0.12" font-weight="normal" font-style="normal" font-family="Liberation Sans">±0.3</text>
<text transform="translate(98.7,842) rotate(90) scale(0.9,1)" font-size="9.3" textLength="42.46" lengthAdjust="spacing" fill="#111" stroke="#111" stroke-width="0.12" font-weight="normal" font-style="normal" font-family="Liberation Sans">120+400</text>
<text transform="translate(88.8,849.8) rotate(90) scale(1.01,1)" font-size="9.88" textLength="21.85" lengthAdjust="spacing" fill="#111" stroke="#111" stroke-width="0.12" font-weight="normal" font-style="normal" font-family="Liberation Sans">±0.5</text>
<text transform="translate(98.7,882.4) rotate(90) scale(0.87,1)" font-size="9.3" textLength="48.88" lengthAdjust="spacing" fill="#111" stroke="#111" stroke-width="0.12" font-weight="normal" font-style="normal" font-family="Liberation Sans">400+1000</text>
<text transform="translate(88.8,893.8) rotate(90) scale(0.96,1)" font-size="9.88" textLength="21.96" lengthAdjust="spacing" fill="#111" stroke="#111" stroke-width="0.12" font-weight="normal" font-style="normal" font-family="Liberation Sans">±0.8</text>
<text transform="translate(98.7,927.8) rotate(90) scale(0.86,1)" font-size="9.3" textLength="55.14" lengthAdjust="spacing" fill="#111" stroke="#111" stroke-width="0.12" font-weight="normal" font-style="normal" font-family="Liberation Sans">1000+2000</text>
<text transform="translate(88.8,939.8) rotate(90) scale(1.01,1)" font-size="9.88" textLength="21.85" lengthAdjust="spacing" fill="#111" stroke="#111" stroke-width="0.12" font-weight="normal" font-style="normal" font-family="Liberation Sans">±1.2</text>
<text transform="translate(138.1,799.8) rotate(90)" font-size="9.59" textLength="4.3" lengthAdjust="spacingAndGlyphs" fill="#111" stroke="#111" stroke-width="0.12" font-weight="normal" font-style="normal" font-family="Liberation Sans">1</text>
<text transform="translate(128.3,791.9) rotate(90)" font-size="9.3" textLength="18.4" lengthAdjust="spacingAndGlyphs" fill="#111" stroke="#111" stroke-width="0.12" font-weight="normal" font-style="normal" font-family="Liberation Sans">XXXX</text>
<text transform="translate(118.6,785.8) rotate(90) scale(0.78,1)" font-size="9.3" textLength="43.72" lengthAdjust="spacing" fill="#111" stroke="#111" stroke-width="0.12" font-weight="normal" font-style="normal" font-family="Liberation Sans">XX.XX.XX</text>
<text transform="translate(137.7,839.1) rotate(90)" font-size="9.59" textLength="4.4" lengthAdjust="spacingAndGlyphs" fill="#111" stroke="#111" stroke-width="0.12" font-weight="normal" font-style="normal" font-family="Liberation Sans">2</text>
<text transform="translate(137.5,877.5) rotate(90)" font-size="9.59" textLength="4.9" lengthAdjust="spacingAndGlyphs" fill="#111" stroke="#111" stroke-width="0.12" font-weight="normal" font-style="normal" font-family="Liberation Sans">3</text>
<text transform="translate(137.5,917.2) rotate(90)" font-size="9.59" textLength="4.3" lengthAdjust="spacingAndGlyphs" fill="#111" stroke="#111" stroke-width="0.12" font-weight="normal" font-style="normal" font-family="Liberation Sans">4</text>
<text transform="translate(137.5,955.4) rotate(90)" font-size="9.59" textLength="4.1" lengthAdjust="spacingAndGlyphs" fill="#111" stroke="#111" stroke-width="0.12" font-weight="normal" font-style="normal" font-family="Liberation Sans">5</text>
<text transform="translate(38.9,981.5) rotate(90) scale(0.78,1)" font-size="6.69" textLength="30.13" lengthAdjust="spacing" fill="#111" stroke="#111" stroke-width="0.12" font-weight="normal" font-style="normal" font-family="Liberation Sans">CODICE:</text>
<text transform="translate(24.25,982.5) rotate(90) scale(0.86,1)" font-size="16.42" textLength="101.62" lengthAdjust="spacing" fill="#111" stroke="#fff" stroke-width="0.25" font-weight="normal" font-style="normal" font-family="Liberation Sans">XB  061AAH</text>
<text transform="translate(62.1,980.6) rotate(90) scale(0.78,1)" font-size="6.69" textLength="22.31" lengthAdjust="spacing" fill="#111" stroke="#111" stroke-width="0.12" font-weight="normal" font-style="normal" font-family="Liberation Sans">SCALA</text>
<text transform="translate(49.3,1004) rotate(90) scale(0.95,1)" font-size="14.24" textLength="21.69" lengthAdjust="spacing" fill="#111" stroke="#fff" stroke-width="0.2" font-weight="normal" font-style="normal" font-family="Liberation Sans">1:3</text>
<text transform="translate(48.7,1042) rotate(90) scale(0.94,1)" font-size="21.8" textLength="27.62" lengthAdjust="spacing" fill="#111" stroke="#fff" stroke-width="0.6" font-weight="normal" font-style="normal" font-family="Liberation Sans">A4</text>
<ellipse cx="56" cy="1085.5" rx="7.8" ry="5.2" fill="none" stroke="#222" stroke-width="1.1"/>
<text transform="translate(69.3,980.6) rotate(90) scale(0.78,1)" font-size="10.17" textLength="86.41" lengthAdjust="spacing" fill="#111" stroke="#111" stroke-width="0.12" font-weight="normal" font-style="normal" font-family="Liberation Sans">DATA:  18.12.06</text>
<text transform="translate(69.3,1075) rotate(90)" font-size="10.17" textLength="18" lengthAdjust="spacingAndGlyphs" fill="#111" stroke="#111" stroke-width="0.12" font-weight="normal" font-style="normal" font-family="Liberation Sans">MOD.</text>
<text transform="translate(79.1,980.6) rotate(90) scale(0.78,1)" font-size="10.17" textLength="72.31" lengthAdjust="spacing" fill="#111" stroke="#111" stroke-width="0.12" font-weight="normal" font-style="normal" font-family="Liberation Sans">DISEGN.:  CR</text>
<text transform="translate(79.1,1040.5) rotate(90) scale(0.78,1)" font-size="10.17" textLength="69.87" lengthAdjust="spacing" fill="#111" stroke="#111" stroke-width="0.12" font-weight="normal" font-style="normal" font-family="Liberation Sans">CONTR.:  DM</text>
<text transform="translate(90.1,984.4) rotate(90)" font-size="9.59" textLength="108.6" lengthAdjust="spacingAndGlyphs" fill="#111" stroke="#111" stroke-width="0.12" font-weight="normal" font-style="normal" font-family="Liberation Sans">MONTECCHIO  E.  (RE)  –  ITALY</text>
<text transform="translate(102.9,1020) rotate(90)" font-size="10.76" textLength="71" lengthAdjust="spacingAndGlyphs" fill="#111" stroke="#111" stroke-width="0.12" font-weight="normal" font-style="normal" font-family="Liberation Sans">CLEANING  HEADS</text>
<path d="M108.4,981.6 L123.1,989.6 L123.4,981.8 L128.6,993.4 L132.6,989.2 C138,992 142.5,997 143.8,1005 C145,1013 140,1019.5 132,1021.2 L127.5,1021.2 M108.4,981.6 C108.6,996 112,1008 119,1012.6 C122,1014 124,1011 125.2,1008 C127,1013 130,1015.2 133.5,1014.5 C137,1013.5 139,1008 138.2,1002 C137.6,997 135,993 132.6,989.2" fill="#fff" stroke="#222" stroke-width="1.2" />
<path d="M114.2,987.4 L122.6,990.6 C122.8,997 121.5,1005.5 118.6,1005.2 C115.5,1004.8 114.4,995 114.2,987.4 Z M115.6,1000.8 L122.3,994" fill="none" stroke="#222" stroke-width="1.1" />
<path d="M126.4,992.8 L132,995.5 C133,1000 133,1006 130.8,1005.8 C128.5,1005.5 127,998 126.4,992.8 Z" fill="none" stroke="#222" stroke-width="1.1" />
<text transform="translate(113.6,1014.2) rotate(90)" font-size="24.5" font-family="Liberation Sans" font-weight="bold" font-style="italic" fill="#fff" stroke="#222" stroke-width="1.2" textLength="67" lengthAdjust="spacingAndGlyphs">olondi</text>
<clipPath id="hx"><path d="M178.9,958 Q178.9,947.5 190.6,944.9 L254.7,933.1 L320,944.9 Q331.2,947.5 331.2,958 L331.2,1033 Q331.2,1045 320,1047.5 L254.7,1061 L191.6,1047.2 Q178.9,1045 178.9,1033 Z"/></clipPath>
<path d="M178.9,958 Q178.9,947.5 190.6,944.9 L254.7,933.1 L320,944.9 Q331.2,947.5 331.2,958 L331.2,1033 Q331.2,1045 320,1047.5 L254.7,1061 L191.6,1047.2 Q178.9,1045 178.9,1033 Z" fill="#f2fbfd" stroke="none"/>
<path d="M262.78,997.87L373.56,1004.83M262.64,998.99L371.67,1019.79M262.36,1000.08L367.93,1034.38M261.94,1001.13L362.38,1048.39M261.4,1002.12L355.12,1061.6M260.73,1003.04L346.26,1073.79M259.96,1003.86L335.95,1084.78M259.09,1004.58L324.33,1094.38M258.14,1005.19L311.61,1102.46M257.11,1005.67L297.97,1108.87M256.04,1006.02L283.64,1113.53M254.93,1006.23L268.84,1116.35M253.8,1006.3L253.8,1117.3M252.67,1006.23L238.76,1116.35M251.56,1006.02L223.96,1113.53M250.49,1005.67L209.63,1108.87M249.46,1005.19L195.99,1102.46M248.51,1004.58L183.27,1094.38M247.64,1003.86L171.65,1084.78M246.87,1003.04L161.34,1073.79M246.2,1002.12L152.48,1061.6M245.66,1001.13L145.22,1048.39M245.24,1000.08L139.67,1034.38M244.96,998.99L135.93,1019.79M244.82,997.87L134.04,1004.83M244.82,996.73L134.04,989.77M244.96,995.61L135.93,974.81M245.24,994.52L139.67,960.22M245.66,993.47L145.22,946.21M246.2,992.48L152.48,933M246.87,991.56L161.34,920.81M247.64,990.74L171.65,909.82M248.51,990.02L183.27,900.22M249.46,989.41L195.99,892.14M250.49,988.93L209.63,885.73M251.56,988.58L223.96,881.07M252.67,988.37L238.76,878.25M253.8,988.3L253.8,877.3M254.93,988.37L268.84,878.25M256.04,988.58L283.64,881.07M257.11,988.93L297.97,885.73M258.14,989.41L311.61,892.14M259.09,990.02L324.33,900.22M259.96,990.74L335.95,909.82M260.73,991.56L346.26,920.81M261.4,992.48L355.12,933M261.94,993.47L362.38,946.21M262.36,994.52L367.93,960.22M262.64,995.61L371.67,974.81M262.78,996.73L373.56,989.77" stroke="#93d4e4" stroke-width="1.1" fill="none" clip-path="url(#hx)"/>
<circle cx="253.8" cy="997.3" r="13" fill="url(#halo)"/>
<path d="M331.2,988.7 L331.2,958 Q331.2,947.5 320,944.9 L254.7,933.1 L190.6,944.9 Q178.9,947.5 178.9,958 L178.9,1033 Q178.9,1045 191.6,1047.2 L254.7,1061 L320,1047.5 Q331.2,1045 331.2,1033 L331.2,1004.7" fill="none" stroke="#222" stroke-width="2.1" />
<line x1="259" y1="994" x2="349" y2="994" stroke="#333" stroke-width="1" />
<line x1="259" y1="997.3" x2="349" y2="997.3" stroke="#333" stroke-width="1" />
<line x1="259" y1="999.9" x2="349" y2="999.9" stroke="#333" stroke-width="1" />
<ellipse cx="253.2" cy="997.1" rx="3.9" ry="3.8" fill="#222"/>
<line x1="250.8" y1="997.4" x2="254.5" y2="997.4" stroke="#ccc" stroke-width="0.8" />
<rect x="256" y="994.8" width="5" height="4.7" rx="0" fill="#333" stroke="#1e1e1e" stroke-width="0"/>
<path d="M280.88,537.55 L280.88,554.05M275.31,543.6 L280.88,543.6M275.31,552.4 L280.88,549.65M285.43,537.55 L285.43,551.85 L286.44,552.95 L290.49,552.95 L290.49,549.65M285.43,545.8 L290.49,541.95" stroke="#000" stroke-width="2.05" fill="none" stroke-linecap="butt" stroke-linejoin="miter"/>
<path d="M300.9,537 L300.9,539.75M293.31,540.63 L308.49,540.63M296.85,543.38 L296.85,548.22 L304.95,548.22 L304.95,543.38 L295.84,543.38M300.9,548.22 L300.9,553.5 L299.38,553.5M297.36,549.65 L294.32,553.5M303.94,549.65 L307.48,553.5" stroke="#000" stroke-width="2.05" fill="none" stroke-linecap="butt" stroke-linejoin="miter"/>
<path d="M316.86,537.55 L312.81,541.95M316.86,542.5 L312.81,547.45M315.03,544.7 L315.03,554.38M318.38,539.53 L328.3,539.53M323.24,537 L323.24,541.73M319.19,541.95 L319.19,546.13 L327.29,546.13 L327.29,541.95 L318.38,541.95M321.92,541.95 L321.92,546.13M324.45,541.95 L324.45,546.13M318.17,548 L328.3,548M319.39,549.65 L318.38,553.5M320.91,549.65 L320.91,553.5 L325.46,553.5M323.24,549.1 L323.94,550.75M326.48,549.65 L327.99,552.95" stroke="#000" stroke-width="2.05" fill="none" stroke-linecap="butt" stroke-linejoin="miter"/>
<path d="M332.31,537.88 L334.34,540.3M331.6,543.93 L334.64,543.93 L334.64,551.85 L336.67,549.65M337.17,540.3 L347.3,540.3M340.21,537.33 L340.21,542.72M344.26,537.33 L344.26,542.72M337.17,544.92 L347.3,544.92M342.94,542.5 L337.17,554.05M340.92,548.22 L340.92,554.05M340.92,548.22 L346.49,548.22 L346.49,553.72 L340.92,553.72" stroke="#000" stroke-width="2.05" fill="none" stroke-linecap="butt" stroke-linejoin="miter"/>
<path d="M354.56,537.33 L350.01,545.25M352.84,542.5 L352.84,554.38M356.59,539.75 L364.18,539.75 L364.18,548 L356.59,548M355.37,543.82 L365.5,543.82M360.13,537 L360.13,548.55 L355.57,554.38" stroke="#000" stroke-width="2.05" fill="none" stroke-linecap="butt" stroke-linejoin="miter"/>
<text x="369.5" y="553.2" font-size="20.3" font-weight="bold" font-family="Liberation Sans" fill="#000" textLength="157" lengthAdjust="spacingAndGlyphs">denoy-fluid.com</text>
</svg></body></html>
